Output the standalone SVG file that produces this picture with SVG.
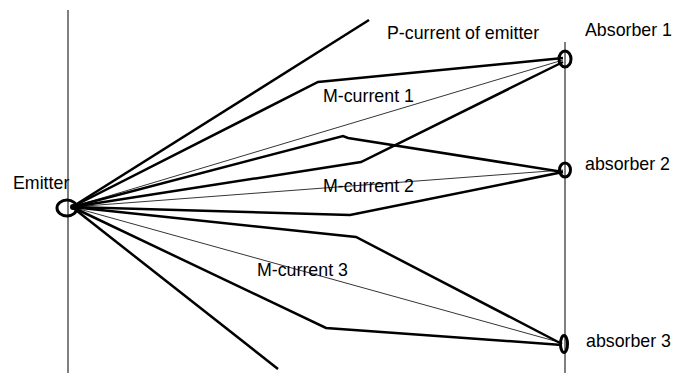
<svg xmlns="http://www.w3.org/2000/svg" width="683" height="373" viewBox="0 0 683 373">
<style>
.axis{stroke:#000;stroke-width:1;fill:none}
.thick{stroke:#000;stroke-width:2.5;fill:none;stroke-linejoin:miter}
.thin{stroke:#000;stroke-width:0.8;fill:none}
.node{stroke:#000;stroke-width:3;fill:none}
.lbl{font-family:"Liberation Sans",Arial,sans-serif;font-size:17.8px;fill:#000}
</style>
<rect width="683" height="373" fill="#fff"/>
<g id="axes">
<line class="axis" x1="68" y1="10" x2="68" y2="373"/>
<line class="axis" x1="565" y1="42" x2="565" y2="373"/>
</g>
<g id="connectors">
<polyline class="thick" points="72,207 369,20"/>
<polyline class="thick" points="72,207 318,82 563,58"/>
<polyline class="thick" points="72,207 361,162 563,62"/>
<polyline class="thick" points="72,207 343,136 348,138 563,172"/>
<polyline class="thick" points="72,207 350,215 563,172"/>
<polyline class="thick" points="72,207 356,237 562,344"/>
<polyline class="thick" points="72,207 326,328 562,345"/>
<polyline class="thick" points="72,207 278,369"/>
<line class="thin" x1="72" y1="207" x2="563" y2="60"/>
<line class="thin" x1="72" y1="207" x2="563" y2="170"/>
<line class="thin" x1="72" y1="207" x2="562" y2="343"/>
</g>
<g id="emitter">
<ellipse class="node" cx="67" cy="208" rx="10" ry="8" stroke-width="3.5"/>
<circle cx="73" cy="207" r="3" fill="#000"/>
<text class="lbl" x="13" y="189">Emitter</text>
</g>
<g id="absorber1">
<ellipse class="node" cx="565" cy="59" rx="6" ry="8"/>
<text class="lbl" x="585" y="36">Absorber 1</text>
</g>
<g id="absorber2">
<ellipse class="node" cx="565" cy="170" rx="5.5" ry="7"/>
<text class="lbl" x="585" y="170">absorber 2</text>
</g>
<g id="absorber3">
<ellipse class="node" cx="564" cy="344" rx="3.5" ry="8.5"/>
<text class="lbl" x="586" y="347">absorber 3</text>
</g>
<g id="labels">
<text class="lbl" x="387" y="39">P-current of emitter</text>
<text class="lbl" x="323" y="102">M-current 1</text>
<text class="lbl" x="323" y="192">M-current 2</text>
<text class="lbl" x="257" y="276">M-current 3</text>
</g>
</svg>
